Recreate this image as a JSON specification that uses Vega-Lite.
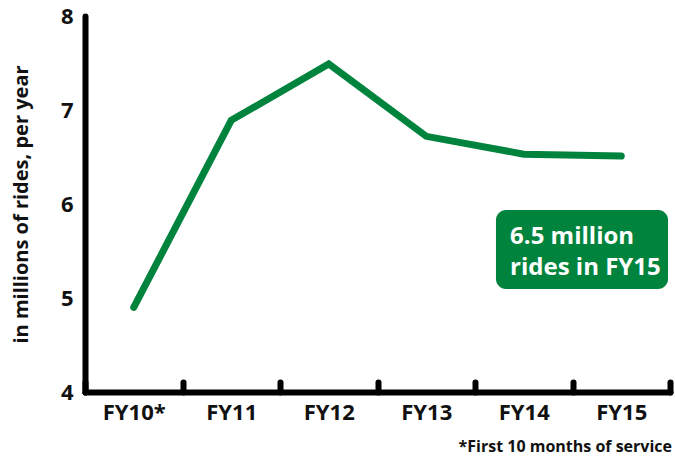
{
  "$schema": "https://vega.github.io/schema/vega-lite/v6.json",
  "width": 585,
  "height": 376,
  "autosize": {"type": "none"},
  "padding": {"left": 85, "top": 16, "right": 5, "bottom": 69},
  "background": "white",
  "config": {"view": {"stroke": null}, "font": "Open Sans"},
  "title": {"text": "*First 10 months of service", "orient": "bottom", "anchor": "end", "frame": "group", "fontSize": 16, "fontWeight": "bold", "color": "#111", "offset": 16, "dx": 2},
  "datasets": {
    "rides": [
      {"year": "FY10*", "rides": 4.9},
      {"year": "FY11", "rides": 6.89},
      {"year": "FY12", "rides": 7.49},
      {"year": "FY13", "rides": 6.72},
      {"year": "FY14", "rides": 6.53},
      {"year": "FY15", "rides": 6.51}
    ]
  },
  "layer": [
    {
      "data": {"name": "rides"},
      "mark": {"type": "line", "color": "#00843D", "strokeWidth": 7, "strokeCap": "round", "strokeJoin": "miter"},
      "encoding": {
        "x": {
          "field": "year", "type": "nominal", "sort": null,
          "scale": {"paddingInner": 0, "paddingOuter": 0},
          "axis": {
            "title": null, "labelAngle": 0, "labelFontSize": 22, "labelFontWeight": "bold", "labelColor": "#111",
            "domainColor": "black", "domainWidth": 6, "domainCap": "round",
            "tickBand": "extent", "tickSize": -10, "tickWidth": 6, "tickColor": "black", "tickCap": "round",
            "labelPadding": 20
          }
        },
        "y": {
          "field": "rides", "type": "quantitative",
          "scale": {"domain": [4, 8], "nice": false, "zero": false},
          "axis": {
            "title": "in millions of rides, per year", "titleFontSize": 20, "titleFontWeight": "bold", "titleColor": "#111",
            "titleX": -64, "titleBaseline": "middle",
            "values": [4, 5, 6, 7, 8], "format": "d", "labelFontSize": 22, "labelFontWeight": "bold", "labelColor": "#111",
            "grid": false, "ticks": false, "labelPadding": 12,
            "domainColor": "black", "domainWidth": 6, "domainCap": "round"
          }
        }
      }
    },
    {
      "data": {"values": [{"from": "FY14", "to": "FY15", "top": 5.936, "bottom": 5.096}]},
      "mark": {"type": "rect", "color": "#00843D", "cornerRadius": 10},
      "encoding": {
        "x": {"field": "from", "type": "nominal", "bandPosition": 0.215},
        "x2": {"field": "to", "bandPosition": 0.98},
        "y": {"field": "top", "type": "quantitative"},
        "y2": {"field": "bottom"}
      }
    },
    {
      "data": {"values": [{"at": "FY14", "level": 5.57, "label": "6.5 million"}, {"at": "FY14", "level": 5.25, "label": "rides in FY15"}]},
      "mark": {"type": "text", "color": "white", "fontSize": 24, "fontWeight": "bold", "align": "left", "baseline": "alphabetic"},
      "encoding": {
        "x": {"field": "at", "type": "nominal", "bandPosition": 0.36},
        "y": {"field": "level", "type": "quantitative"},
        "text": {"field": "label"}
      }
    }
  ]
}
